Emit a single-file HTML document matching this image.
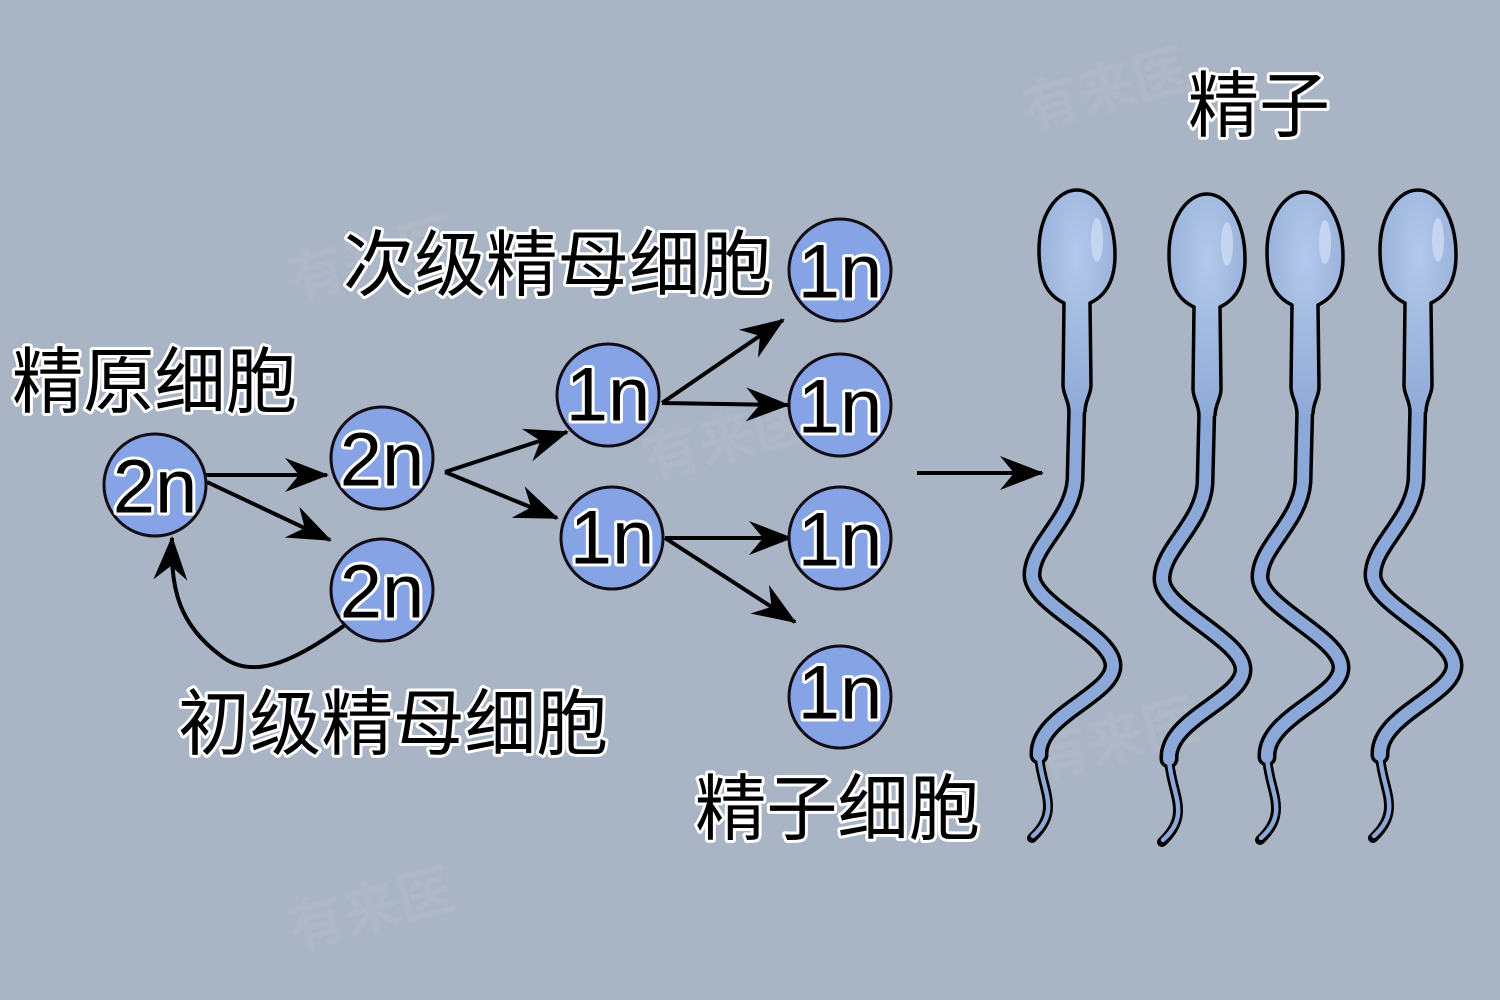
<!DOCTYPE html>
<html><head><meta charset="utf-8"><style>
html,body{margin:0;padding:0;background:#a9b4c4;}
svg{display:block}
.lbl{font-family:"Liberation Sans","Noto Sans CJK SC",sans-serif;font-size:72px;fill:#000;stroke:#fff;stroke-width:6px;paint-order:stroke;stroke-linejoin:round;dominant-baseline:central}
.n{font-family:"Liberation Sans",sans-serif;font-size:76px;fill:#000;stroke:#fff;stroke-width:6px;paint-order:stroke;stroke-linejoin:round;text-anchor:middle;dominant-baseline:central}
</style></head><body>
<svg width="1500" height="1000" viewBox="0 0 1500 1000" xmlns="http://www.w3.org/2000/svg">
<defs>
<marker id="ah" markerUnits="userSpaceOnUse" markerWidth="50" markerHeight="40" viewBox="-44 -20 50 40" refX="0" refY="0" orient="auto">
<path d="M2,0 L-42,-17 L-28,0 L-42,17 Z" fill="#000"/>
</marker>
<radialGradient id="hg" cx="0.5" cy="0.3" r="0.8">
<stop offset="0" stop-color="#b4c9ea"/><stop offset="1" stop-color="#8aa6d4"/>
</radialGradient>
<g id="sp">
<g fill="none" stroke="#000" stroke-linecap="round" stroke-linejoin="round">
<path d="M0,400 L-2,480 C-5,520 -45,545 -45,575 C-45,605 35,635 36,665 C37,695 -40,715 -38,755" stroke-width="19"/>
<path d="M-38,755 C-36,790 -15,810 -45,838" stroke-width="10"/>
</g>
<g fill="none" stroke="#8ba8d8" stroke-linecap="round" stroke-linejoin="round">
<path d="M0,400 L-2,480 C-5,520 -45,545 -45,575 C-45,605 35,635 36,665 C37,695 -40,715 -38,755" stroke-width="12"/>
<path d="M-38,755 C-36,790 -15,810 -44,836" stroke-width="4.5"/>
</g>
<path d="M-13,303 C-30,295 -38,280 -38,250 C-38,215 -20,190 0,190 C22,190 38,220 38,255 C38,282 28,296 13,303 L14,385 C14,395 8,400 8,412 L-8,412 C-8,400 -14,395 -14,385 Z" fill="url(#hg)"/>
<path d="M8,412 C8,400 14,395 14,385 L13,303 C28,296 38,282 38,255 C38,220 22,190 0,190 C-20,190 -38,215 -38,250 C-38,280 -30,295 -13,303 L-14,385 C-14,395 -8,400 -8,412" fill="none" stroke="#000" stroke-width="3.5" stroke-linejoin="round"/>
<ellipse cx="20" cy="240" rx="6" ry="22" fill="#d0e0f6" opacity="0.7"/>
</g>
</defs>

<g opacity="0.06" font-family="Liberation Sans,Noto Sans CJK SC,sans-serif" font-size="56" fill="#fff" font-weight="bold">
<text x="1030" y="130" transform="rotate(-15 1030 130)">有来医</text>
<text x="295" y="300" transform="rotate(-15 295 300)">有来医</text>
<text x="650" y="480" transform="rotate(-15 650 480)">有来医</text>
<text x="1040" y="780" transform="rotate(-15 1040 780)">有来医</text>
<text x="295" y="950" transform="rotate(-15 295 950)">有来医</text>
</g>

<g stroke="#000" stroke-width="4" fill="none" marker-end="url(#ah)">
<line x1="205" y1="475" x2="327" y2="475"/>
<line x1="207" y1="482" x2="330" y2="540"/>
<line x1="445" y1="472" x2="567" y2="432"/>
<line x1="445" y1="472" x2="557" y2="518"/>
<line x1="662" y1="403" x2="783" y2="320"/>
<line x1="662" y1="403" x2="788" y2="405"/>
<line x1="665" y1="538" x2="791" y2="538"/>
<line x1="665" y1="538" x2="795" y2="622"/>
<line x1="917" y1="473" x2="1042" y2="473"/>
<path d="M345,625 C290,665 250,680 220,655 C180,625 170,590 172,538"/>
</g>

<g fill="#86a3e6" stroke="#120c14" stroke-width="3">
<circle cx="155" cy="485" r="51"/>
<circle cx="382" cy="458" r="51"/>
<circle cx="382" cy="590" r="51"/>
<circle cx="608" cy="395" r="51"/>
<circle cx="612" cy="538" r="51"/>
<circle cx="840" cy="270" r="51"/>
<circle cx="840" cy="405" r="51"/>
<circle cx="840" cy="538" r="51"/>
<circle cx="840" cy="697" r="51"/>
</g>
<g>
<text x="155" y="487" class="n">2n</text>
<text x="382" y="460" class="n">2n</text>
<text x="382" y="592" class="n">2n</text>
<text x="608" y="395" class="n">1n</text>
<text x="612" y="538" class="n">1n</text>
<text x="840" y="272" class="n">1n</text>
<text x="840" y="407" class="n">1n</text>
<text x="840" y="540" class="n">1n</text>
<text x="840" y="693" class="n">1n</text>
</g>

<text class="lbl" x="12" y="383" textLength="285" lengthAdjust="spacingAndGlyphs">精原细胞</text>
<text class="lbl" x="343" y="266" textLength="429" lengthAdjust="spacingAndGlyphs">次级精母细胞</text>
<text class="lbl" x="178" y="725" textLength="430" lengthAdjust="spacingAndGlyphs">初级精母细胞</text>
<text class="lbl" x="695" y="810" textLength="285" lengthAdjust="spacingAndGlyphs">精子细胞</text>
<text class="lbl" x="1188" y="107" textLength="142" lengthAdjust="spacingAndGlyphs">精子</text>

<use href="#sp" transform="translate(1077,0)"/>
<use href="#sp" transform="translate(1207,4)"/>
<use href="#sp" transform="translate(1305,2)"/>
<use href="#sp" transform="translate(1418,0)"/>
</svg>
</body></html>
